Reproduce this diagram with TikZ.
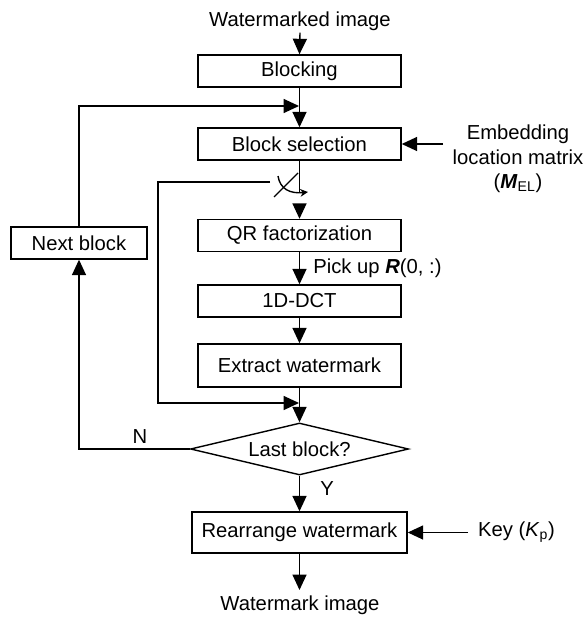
\documentclass[tikz,border=0pt]{standalone}
\usepackage{fontspec}
\setmainfont{Liberation Sans}
\usetikzlibrary{arrows.meta,shapes.geometric}
\begin{document}
\begin{tikzpicture}[x=0.025cm,y=-0.025cm, line width=1pt,
  font=\fontsize{14.4}{17}\selectfont,
  proc/.style={draw, rectangle, minimum width=5.075cm, minimum height=0.8cm, inner sep=0pt},
  decide/.style={draw, diamond, aspect=4.2, minimum width=5.45cm, minimum height=1.3cm, inner sep=0pt},
  lbl/.style={inner sep=1pt},
  arr/.style={-{Triangle[length=11pt,width=10pt]}},
  smallarr/.style={-{Stealth[length=5.5pt,width=5.5pt]}}]
  \useasboundingbox (0,0) rectangle (584,617);

  % main chain of processing steps
  \node[lbl] (src) at (300,21) {Watermarked image};
  \node[proc] (blocking) at (299.5,71) {Blocking};
  \node[proc] (select) at (299.5,144) {Block selection};
  \node[proc] (qr) at (299.5,235.5) {QR factorization};
  \node[proc] (dct) at (299.5,301) {1D-DCT};
  \node[proc, minimum height=1.075cm] (extract) at (299.5,365.5) {Extract watermark};
  \node[decide] (last) at (299.5,449) {Last block?};
  \node[proc, minimum width=5.375cm, minimum height=1.025cm] (rearr) at (299.5,532.5) {Rearrange watermark};
  \node[lbl] (dst) at (300,605) {Watermark image};
  \node[proc, minimum width=3.4cm] (next) at (79,243) {Next block};

  % side inputs
  \node[lbl, align=center, font=\fontsize{14.4}{17.5}\selectfont] (emb) at (518,159)
    {Embedding\\location matrix\\(\textbf{\textit{M}}\textsubscript{EL})};
  \node[lbl, anchor=west] (key) at (476,532) {Key (\textit{K}\textsubscript{p})};
  \coordinate (embin) at (443,144);
  \coordinate (keyin) at (468,532.5);

  % helper points
  \coordinate (fbin) at (299,106);
  \coordinate (swtop) at (299.5,192);
  \coordinate (swleft) at (270,182);
  \coordinate (loopin) at (299,403);
  \coordinate (qrin) at (299.5,205);
  \coordinate (dstin) at (299.5,590);

  % connectors
  \draw[arr] (src.south) -- (blocking.north);
  \draw[arr] (blocking.south) -- (select.north);
  \draw[arr] (next.north) |- (fbin);
  \draw[arr] (embin) -- (select.east);
  \draw (select.south) -- (swtop);
  \draw[arr] (swleft) -- ++(-112,0) |- (loopin);
  % switch symbol
  \draw (274,197) -- (298,173);
  \draw[smallarr] (278,176) .. controls (280,189) and (290,194) .. (308,192);
  \draw[arr] (qrin) -- (qr.north);
  \draw[arr] (qr.south) -- (dct.north)
    node[pos=0.5, anchor=west, xshift=6pt] {Pick up \textbf{\textit{R}}(0, :)};
  \draw[arr] (dct.south) -- (extract.north);
  \draw[arr] (extract.south) -- (last.north);
  \draw[arr] (last.west) -| (next.south);
  \node at (140,437) {N};
  \draw[arr] (last.south) -- (rearr.north);
  \node at (327,489) {Y};
  \draw[arr] (keyin) -- (rearr.east);
  \draw[arr] (rearr.south) -- (dstin);
\end{tikzpicture}
\end{document}
